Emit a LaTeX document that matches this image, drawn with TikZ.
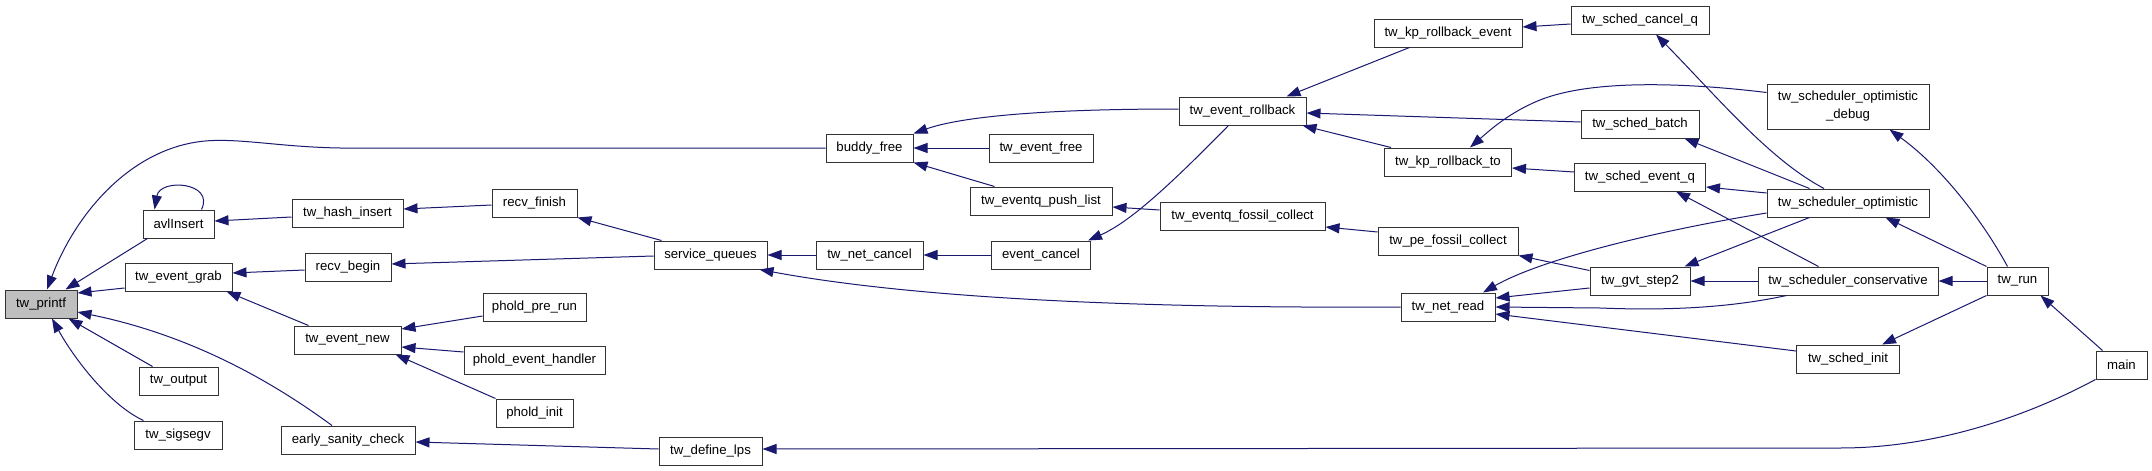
\documentclass[tikz,border=0pt]{standalone}
\usepackage{fontspec}
\setmainfont{Liberation Sans}
\usetikzlibrary{arrows.meta,calc}
\definecolor{edgeblue}{HTML}{191970}
\definecolor{nodegray}{HTML}{BFBFBF}
\tikzset{
  fbox/.style={draw=black!80, line width=1pt, fill=white, inner sep=0pt, minimum height=28pt,
    font=\fontsize{13.2}{18}\selectfont, text=black, align=center},
  callee/.style={draw=edgeblue, line width=1pt, -{Triangle[length=14pt,width=10pt]}},
}
\begin{document}
\begin{tikzpicture}[x=1pt,y=-1pt]
\fill[white] (0,0) rectangle (2152,471);
\useasboundingbox (0,0) rectangle (2152,471);

% nodes
\node[fbox, fill=nodegray, minimum width=72pt] (printf) at (41,304) {tw\_printf};
\node[fbox, minimum width=71pt] (avl) at (178.5,224) {avlInsert};
\node[fbox, minimum width=107pt] (grab) at (178.5,277) {tw\_event\_grab};
\node[fbox, minimum width=79pt] (output) at (178.5,381) {tw\_output};
\node[fbox, minimum width=88pt] (sigsegv) at (178,435) {tw\_sigsegv};
\node[fbox, minimum width=111pt] (hash) at (347.5,213) {tw\_hash\_insert};
\node[fbox, minimum width=86pt] (recvb) at (348,267) {recv\_begin};
\node[fbox, minimum width=107pt] (evnew) at (347.5,340) {tw\_event\_new};
\node[fbox, minimum width=134pt] (early) at (348,440) {early\_sanity\_check};
\node[fbox, minimum width=85pt] (recvf) at (534.5,203) {recv\_finish};
\node[fbox, minimum width=103pt] (prerun) at (534.5,307) {phold\_pre\_run};
\node[fbox, minimum width=141pt] (handler) at (534.5,360) {phold\_event\_handler};
\node[fbox, minimum width=77pt] (pinit) at (534.5,413) {phold\_init};
\node[fbox, minimum width=113pt] (sq) at (710.5,255) {service\_queues};
\node[fbox, minimum width=103pt] (deflps) at (710.5,451) {tw\_define\_lps};
\node[fbox, minimum width=87pt] (buddy) at (869.5,148) {buddy\_free};
\node[fbox, minimum width=107pt] (netcancel) at (869.5,255) {tw\_net\_cancel};
\node[fbox, minimum width=104pt] (evfree) at (1041,148) {tw\_event\_free};
\node[fbox, minimum width=142pt] (pushlist) at (1041,201) {tw\_eventq\_push\_list};
\node[fbox, minimum width=99pt] (evcancel) at (1041,255) {event\_cancel};
\node[fbox, minimum width=127pt] (rollback) at (1242.5,111) {tw\_event\_rollback};
\node[fbox, minimum width=165pt] (efossil) at (1242.5,216) {tw\_eventq\_fossil\_collect};
\node[fbox, minimum width=148pt] (kpevent) at (1448,33) {tw\_kp\_rollback\_event};
\node[fbox, minimum width=127pt] (kpto) at (1448,162) {tw\_kp\_rollback\_to};
\node[fbox, minimum width=140pt] (pefossil) at (1448,241) {tw\_pe\_fossil\_collect};
\node[fbox, minimum width=94pt] (netread) at (1448,307) {tw\_net\_read};
\node[fbox, minimum width=138pt] (cancelq) at (1640,20) {tw\_sched\_cancel\_q};
\node[fbox, minimum width=118pt] (batch) at (1640,124) {tw\_sched\_batch};
\node[fbox, minimum width=131pt] (eventq) at (1640,177) {tw\_sched\_event\_q};
\node[fbox, minimum width=100pt] (gvt) at (1640,281) {tw\_gvt\_step2};
\node[fbox, minimum width=162pt, minimum height=45pt] (optdbg) at (1848,106.5) {tw\_scheduler\_optimistic\\\_debug};
\node[fbox, minimum width=162pt] (opt) at (1848,203) {tw\_scheduler\_optimistic};
\node[fbox, minimum width=180pt] (cons) at (1848,281) {tw\_scheduler\_conservative};
\node[fbox, minimum width=103pt] (schedinit) at (1848,359) {tw\_sched\_init};
\node[fbox, minimum width=61pt] (run) at (2017.5,281) {tw\_run};
\node[fbox, minimum width=51pt] (main) at (2121.5,365) {main};

% edges (caller -> callee)
\draw[callee] ($(avl.south west)+(5,0)$) -- ($(printf.north east)+(-12,0)$);
\draw[callee] ($(avl.north east)+(-13,0)$) .. controls (215,182) and (160,178) .. ($(avl.north west)+(12,0)$);
\draw[callee] ($(grab.west)+(0,11)$) -- ($(printf.east)+(0,-11)$);
\draw[callee] ($(output.north west)+(14,0)$) -- ($(printf.south east)+(-9,0)$);
\draw[callee] ($(sigsegv.north west)+(10,0)$) .. controls (110,405) and (75,360) .. ($(printf.south)+(11,0)$);
\draw[callee] ($(early.north)+(-16,0)$) .. controls (270,380) and (190,335) .. ($(printf.east)+(0,8)$);
\draw[callee] (buddy.west) -- (340,148) .. controls (280,147) and (240,138) .. (205,141) .. controls (130,148) and (75,215) .. ($(printf.north)+(6,0)$);
\draw[callee] ($(hash.west)+(0,4)$) -- ($(avl.east)+(0,-3)$);
\draw[callee] ($(recvb.west)+(0,3)$) -- ($(grab.east)+(0,-4)$);
\draw[callee] ($(evnew.north west)+(15,0)$) -- ($(grab.south east)+(-6,0)$);
\draw[callee] ($(recvf.west)+(0,2)$) -- ($(hash.east)+(0,-4)$);
\draw[callee] ($(sq.west)+(0,1)$) -- ($(recvb.east)+(0,-3)$);
\draw[callee] ($(sq.north west)+(8,0)$) -- (recvf.south east);
\draw[callee] ($(prerun.west)+(0,9)$) -- ($(evnew.east)+(0,-11)$);
\draw[callee] ($(handler.west)+(0,-8)$) -- ($(evnew.east)+(0,7)$);
\draw[callee] (pinit.north west) -- ($(evnew.south east)+(-6,0)$);
\draw[callee] ($(deflps.west)+(0,-2)$) -- ($(early.east)+(0,2)$);
\draw[callee] (netread.west) .. controls (1050,309) and (870,290) .. ($(sq.south east)+(-8,0)$);
\draw[callee] (main.south west) .. controls (2020,420) and (1930,448) .. (1840,448) -- ($(deflps.east)+(0,-2)$);
\draw[callee] ($(rollback.west)+(0,-2)$) .. controls (1040,109) and (960,117) .. (buddy.north east);
\draw[callee] (evfree.west) -- (buddy.east);
\draw[callee] ($(pushlist.north west)+(25,0)$) -- (buddy.south east);
\draw[callee] (evcancel.west) -- (netcancel.east);
\draw[callee] (netcancel.west) -- (sq.east);
\draw[callee] ($(rollback.south)+(-14,0)$) .. controls (1170,185) and (1130,222) .. ($(evcancel.north east)+(-3,0)$);
\draw[callee] ($(efossil.west)+(0,-6)$) -- ($(pushlist.east)+(0,6)$);
\draw[callee] ($(kpevent.south west)+(36,0)$) -- ($(rollback.north east)+(-20,0)$);
\draw[callee] ($(batch.west)+(0,-2)$) -- ($(rollback.east)+(0,2)$);
\draw[callee] ($(kpto.north west)+(7,0)$) -- ($(rollback.south east)+(-4,0)$);
\draw[callee] ($(pefossil.west)+(0,-9)$) -- ($(efossil.east)+(0,11)$);
\draw[callee] ($(cancelq.west)+(0,4)$) -- ($(kpevent.east)+(0,-6)$);
\draw[callee] ($(optdbg.west)+(0,-14)$) .. controls (1680,82) and (1590,80) .. (1540,100) .. controls (1510,112) and (1490,130) .. ($(kpto.north)+(22,0)$);
\draw[callee] ($(eventq.west)+(0,-5)$) -- ($(kpto.east)+(0,6)$);
\draw[callee] ($(gvt.north west)+(0,4)$) -- (pefossil.south east);
\draw[callee] ($(opt.west)+(0,10)$) .. controls (1650,232) and (1540,260) .. ($(netread.north)+(35,0)$);
\draw[callee] ($(gvt.west)+(0,7)$) -- ($(netread.east)+(0,-9)$);
\draw[callee] ($(cons.south west)+(29,0)$) .. controls (1720,310) and (1650,310) .. (1600,308) -- (netread.east);
\draw[callee] ($(schedinit.west)+(0,-8)$) -- ($(netread.east)+(0,7)$);
\draw[callee] ($(opt.north)+(-24,0)$) .. controls (1770,160) and (1720,100) .. ($(cancelq.south)+(16,0)$);
\draw[callee] ($(opt.north west)+(43,0)$) -- ($(batch.south east)+(-15,0)$);
\draw[callee] ($(opt.west)+(0,-10)$) -- ($(eventq.east)+(0,10)$);
\draw[callee] ($(opt.south west)+(43,0)$) -- ($(gvt.north east)+(-6,0)$);
\draw[callee] ($(cons.north west)+(61,0)$) -- ($(eventq.south east)+(-30,0)$);
\draw[callee] (cons.west) -- (gvt.east);
\draw[callee] ($(run.north)+(-10,0)$) .. controls (1985,225) and (1945,170) .. ($(optdbg.south east)+(-40,0)$);
\draw[callee] (run.north west) -- ($(opt.south east)+(-44,0)$);
\draw[callee] (run.west) -- (cons.east);
\draw[callee] (run.south west) -- ($(schedinit.north east)+(-18,0)$);
\draw[callee] ($(main.north west)+(7,0)$) -- ($(run.south east)+(-8,0)$);
\end{tikzpicture}
\end{document}
